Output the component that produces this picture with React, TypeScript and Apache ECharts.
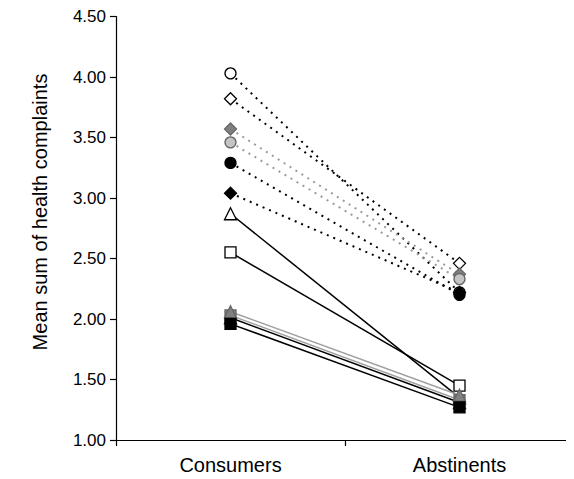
import React, { useEffect, useRef } from "react";
import * as echarts from "echarts";

const categories = ["Consumers", "Abstinents"];
const yTicks = { min: 1, max: 4.5, interval: 0.5 };
const yTitle = "Mean sum of health complaints";

// [consumers, abstinents]
const openCircle = [4.03, 2.22];
const openDiamond = [3.82, 2.46];
const grayDiamond = [3.57, 2.37];
const grayCircle = [3.46, 2.33];
const blackCircle = [3.29, 2.2];
const blackDiamond = [3.04, 2.22];
const openTriangle = [2.87, 1.35];
const openSquare = [2.55, 1.45];
const grayTriangle = [2.06, 1.37];
const graySquare = [2.03, 1.33];
const blackTriangle = [2.01, 1.31];
const blackSquare = [1.96, 1.27];

type Def = {
  name: string;
  data: number[];
  symbol: string;
  fill: string;
  border: string;
  line: string;
  dotted: boolean;
  size: number;
};

const defs: Def[] = [
  { name: "openCircle", data: openCircle, symbol: "circle", fill: "#ffffff", border: "#000", line: "#000", dotted: true, size: 11 },
  { name: "openDiamond", data: openDiamond, symbol: "diamond", fill: "#ffffff", border: "#000", line: "#000", dotted: true, size: 12 },
  { name: "grayDiamond", data: grayDiamond, symbol: "diamond", fill: "#808080", border: "#666", line: "#9a9a9a", dotted: true, size: 12 },
  { name: "grayCircle", data: grayCircle, symbol: "circle", fill: "#c4c4c4", border: "#666", line: "#9a9a9a", dotted: true, size: 11 },
  { name: "blackCircle", data: blackCircle, symbol: "circle", fill: "#000", border: "#000", line: "#000", dotted: true, size: 11 },
  { name: "blackDiamond", data: blackDiamond, symbol: "diamond", fill: "#000", border: "#000", line: "#000", dotted: true, size: 12 },
  { name: "openTriangle", data: openTriangle, symbol: "triangle", fill: "#ffffff", border: "#000", line: "#000", dotted: false, size: 12 },
  { name: "openSquare", data: openSquare, symbol: "rect", fill: "#ffffff", border: "#000", line: "#000", dotted: false, size: 11 },
  { name: "graySquare", data: graySquare, symbol: "rect", fill: "#808080", border: "#666", line: "#a0a0a0", dotted: false, size: 11 },
  { name: "blackTriangle", data: blackTriangle, symbol: "triangle", fill: "#000", border: "#000", line: "#000", dotted: false, size: 12 },
  { name: "grayTriangle", data: grayTriangle, symbol: "triangle", fill: "#808080", border: "#666", line: "#a0a0a0", dotted: false, size: 12 },
  { name: "blackSquare", data: blackSquare, symbol: "rect", fill: "#000", border: "#000", line: "#000", dotted: false, size: 11 },
];

export default function App() {
  const ref = useRef<HTMLDivElement>(null);
  useEffect(() => {
    if (!ref.current) return;
    const chart = echarts.init(ref.current, null, { renderer: "svg" });
    chart.setOption({
      animation: false,
      backgroundColor: "#ffffff",
      textStyle: { fontFamily: "Liberation Sans, Arial, sans-serif" },
      grid: { left: 108, top: 8, width: 466, height: 424, containLabel: false },
      graphic: [
        {
          type: "text",
          x: 32,
          y: 204,
          rotation: Math.PI / 2,
          style: {
            text: yTitle,
            fill: "#000",
            font: "20px 'Liberation Sans', Arial, sans-serif",
            textAlign: "center",
            textVerticalAlign: "middle",
          },
        },
      ],
      xAxis: {
        type: "category",
        data: categories,
        boundaryGap: true,
        axisLine: { show: true, lineStyle: { color: "#000", width: 1.2 } },
        axisTick: { show: true, length: 6, lineStyle: { color: "#000", width: 1.2 } },
        axisLabel: { color: "#000", fontSize: 20, margin: 15 },
        splitLine: { show: false },
      },
      yAxis: {
        type: "value",
        min: yTicks.min,
        max: yTicks.max,
        interval: yTicks.interval,
        axisLine: { show: true, lineStyle: { color: "#000", width: 1.2 } },
        axisTick: { show: true, length: 6, inside: false, lineStyle: { color: "#000", width: 1.2 } },
        axisLabel: { color: "#000", fontSize: 17, margin: 10, formatter: (v: number) => v.toFixed(2) },
        splitLine: { show: false },
      },
      series: defs.map((d) => ({
        name: d.name,
        type: "line",
        data: d.data,
        symbol: d.symbol,
        symbolSize: d.size,
        showSymbol: true,
        lineStyle: {
          color: d.line,
          width: d.dotted ? 2 : 1.5,
          type: d.dotted ? [2, 5] : "solid",
        },
        itemStyle: { color: d.fill, borderColor: d.border, borderWidth: 1.3 },
        emphasis: { disabled: true },
      })),
    });
    return () => chart.dispose();
  }, []);
  return <div ref={ref} style={{ width: 566, height: 471 }} />;
}
